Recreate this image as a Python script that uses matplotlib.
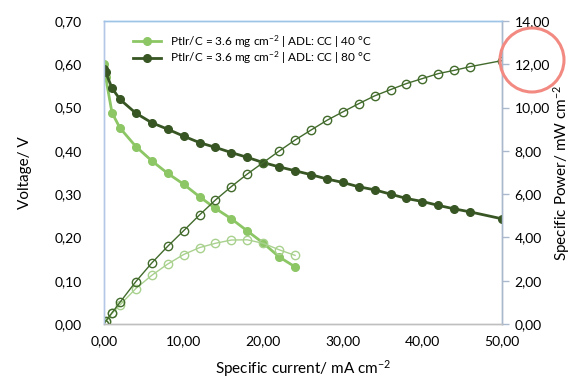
import matplotlib
matplotlib.use('Agg')
import matplotlib.pyplot as plt
from matplotlib.ticker import FuncFormatter, MultipleLocator
from matplotlib.patches import Ellipse

plt.rcParams['font.family'] = ['Lato', 'DejaVu Sans']
plt.rcParams['mathtext.fontset'] = 'custom'
plt.rcParams['mathtext.rm'] = 'Lato'
plt.rcParams['mathtext.it'] = 'Lato:italic'

# 40 degC series (current in mA cm-2, voltage in V, power in mW cm-2)
current_40 = [0, 0.2, 1, 2, 4, 6, 8, 10, 12, 14, 16, 18, 20, 22, 24]
voltage_40 = [0.600, 0.571, 0.488, 0.453, 0.410, 0.377, 0.348, 0.323, 0.294,
              0.267, 0.243, 0.215, 0.187, 0.155, 0.132]
power_40 = [0, 0.11, 0.49, 0.88, 1.64, 2.25, 2.77, 3.21, 3.53, 3.73, 3.88,
            3.89, 3.73, 3.43, 3.17]

# 80 degC series
current_80 = [0, 0.2, 1, 2, 4, 6, 8, 10, 12, 14, 16, 18, 20, 22, 24, 26, 28,
              30, 32, 34, 36, 38, 40, 42, 44, 46, 50]
voltage_80 = [0.589, 0.582, 0.545, 0.519, 0.487, 0.465, 0.450, 0.434, 0.419,
              0.408, 0.396, 0.385, 0.373, 0.363, 0.354, 0.345, 0.335, 0.327,
              0.317, 0.310, 0.300, 0.290, 0.283, 0.274, 0.266, 0.259, 0.243]
power_80 = [0, 0.12, 0.52, 1.00, 1.96, 2.82, 3.59, 4.31, 5.04, 5.73, 6.35,
            6.93, 7.46, 7.99, 8.50, 8.96, 9.41, 9.80, 10.18, 10.54, 10.83,
            11.11, 11.34, 11.57, 11.72, 11.89, 12.17]

labels = ['PtIr/C = 3.6 mg cm$^{-2}$ | ADL: CC | 40 °C',
          'PtIr/C = 3.6 mg cm$^{-2}$ | ADL: CC | 80 °C']

light_v = '#8cc665'
light_p = '#a9d18e'
dark_v = '#375623'
dark_p = '#426b2c'

fig = plt.figure(figsize=(5.76, 3.79), dpi=100)
ax = fig.add_axes([0.1806, 0.1451, 0.6909, 0.7995])
ax2 = ax.twinx()

l1, = ax.plot(current_40, voltage_40, '-o', color=light_v, lw=2.0, ms=5.5,
              label=labels[0], zorder=3)
l2, = ax.plot(current_80, voltage_80, '-o', color=dark_v, lw=2.0, ms=5.5,
              label=labels[1], zorder=3)

ax2.plot(current_40, power_40, '-o', color=light_p, lw=1.0, ms=6,
         mfc='none', mew=1.0)
ax2.plot(current_80, power_80, '-o', color=dark_p, lw=1.0, ms=6,
         mfc='none', mew=1.0)

ax.set_xlim(0, 50)
ax.set_ylim(0, 0.70)
ax2.set_ylim(0, 14)
ax.xaxis.set_major_locator(MultipleLocator(10))
ax.yaxis.set_major_locator(MultipleLocator(0.1))
ax2.yaxis.set_major_locator(MultipleLocator(2))
comma = FuncFormatter(lambda v, p: ('%.2f' % v).replace('.', ','))
ax.xaxis.set_major_formatter(comma)
ax.yaxis.set_major_formatter(comma)
ax2.yaxis.set_major_formatter(comma)

for a in (ax, ax2):
    a.spines['top'].set_color('#9dc3e6')
    a.spines['left'].set_color('#b4c7e7')
    a.spines['right'].set_color('#a9b8cc')
    a.spines['bottom'].set_color('#bfbfbf')
    for s in a.spines.values():
        s.set_linewidth(1.0)
    a.set_facecolor('none')

ax.tick_params(axis='x', length=0, pad=8, labelsize=10, colors='#000000')
ax.tick_params(axis='y', length=0, pad=16, labelsize=10)
ax2.tick_params(axis='y', length=5, width=1, color='#a9b8cc', pad=4,
                labelsize=10)

ax.set_xlabel('Specific current/ mA cm$^{-2}$', fontsize=11, labelpad=8)
ax.set_ylabel('Voltage/ V', fontsize=11, labelpad=16)
ax2.set_ylabel('Specific Power/ mW cm$^{-2}$', fontsize=11, labelpad=1)

ax2.legend(handles=[l1, l2], loc='upper left', bbox_to_anchor=(0.06, 0.975),
           frameon=False, fontsize=8.5, handlelength=2.4, borderaxespad=0,
           labelspacing=0.0)

# highlight circle around the 12,00 tick label
fig.patches.append(Ellipse((532 / 576, 1 - 60 / 379), 64 / 576, 64 / 379,
                           transform=fig.transFigure, fill=False,
                           edgecolor='#f28a82', lw=2.2))

fig.savefig('out.png', dpi=100)
